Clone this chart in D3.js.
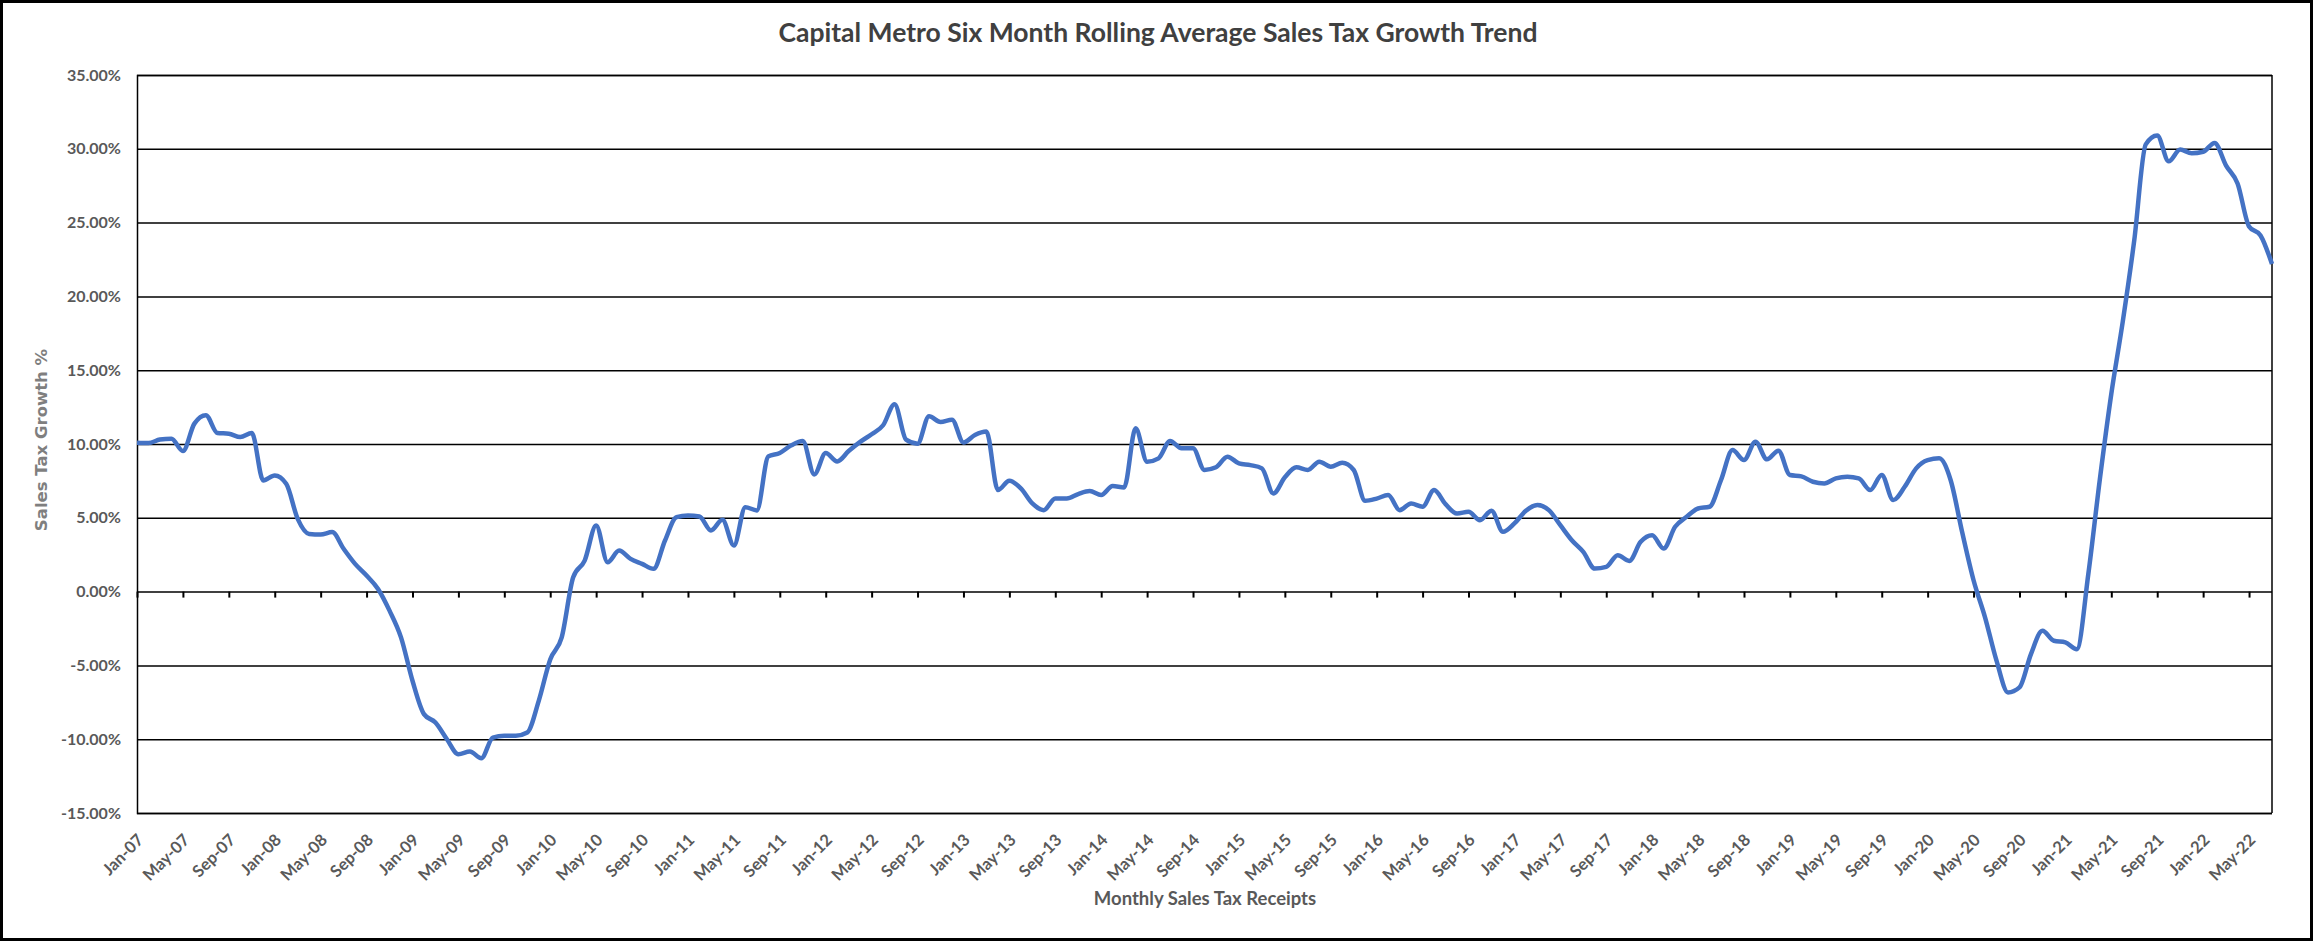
<!DOCTYPE html>
<html>
<head>
<meta charset="utf-8">
<script src="https://cdn.jsdelivr.net/npm/d3@7"></script>
<style>
  body { margin: 0; background: #fff; }
  svg { display: block; }
</style>
</head>
<body>
<svg id="chart" width="2313" height="941"></svg>
<script>
// Six month rolling average growth, percent, one value per month from Jan-07 to Jul-22
var growth = [
  10.09, 10.07, 10.3, 10.36, 9.52, 11.38, 11.95, 10.75, 10.7, 10.47, 10.75, 7.53,
  7.87, 7.31, 4.93, 3.91, 3.87, 4.03, 2.9, 1.88, 1.09, 0.18, -1.29, -3.1,
  -6.04, -8.3, -8.87, -10.0, -11.02, -10.84, -11.29, -9.89, -9.77, -9.77, -9.55, -7.4,
  -4.6, -3.1, 0.97, 2.1, 4.48, 1.99, 2.78, 2.22, 1.88, 1.54, 3.46, 5.05,
  5.16, 5.09, 4.14, 4.86, 3.12, 5.72, 5.5, 9.16, 9.39, 9.91, 10.2, 7.94,
  9.39, 8.82, 9.52, 10.14, 10.66, 11.27, 12.69, 10.29, 10.02, 11.88, 11.49, 11.65,
  10.1, 10.61, 10.84, 6.88, 7.51, 6.99, 5.97, 5.52, 6.31, 6.31, 6.61, 6.81,
  6.54, 7.15, 7.06, 11.06, 8.8, 9.03, 10.2, 9.71, 9.71, 8.24, 8.42, 9.14,
  8.69, 8.57, 8.35, 6.65, 7.74, 8.42, 8.24, 8.8, 8.46, 8.73, 8.24, 6.15,
  6.3, 6.54, 5.52, 5.97, 5.75, 6.88, 5.93, 5.29, 5.41, 4.84, 5.48, 4.05,
  4.62, 5.48, 5.86, 5.52, 4.5, 3.48, 2.69, 1.56, 1.67, 2.47, 2.08, 3.37,
  3.82, 2.92, 4.39, 5.07, 5.63, 5.75, 7.56, 9.59, 8.91, 10.16, 8.96, 9.55,
  7.9, 7.81, 7.44, 7.33, 7.67, 7.78, 7.67, 6.88, 7.9, 6.2, 7.1, 8.35,
  8.91, 9.03, 7.56, 4.05, 0.77, -1.74, -4.68, -6.83, -6.49, -4.23, -2.65, -3.33,
  -3.44, -3.9, 1.2, 7.6, 13.4, 18.3, 23.8, 30.3, 30.9, 29.15, 29.95, 29.7,
  29.8, 30.4, 28.86, 27.65, 24.74, 24.13, 22.19
];

// Category months (one per value) and the value axis ticks
var months = d3.timeMonth.range(new Date(2007, 0, 1), new Date(2022, 7, 1));
var yTicks = [-15, -10, -5, 0, 5, 10, 15, 20, 25, 30, 35];
var labelEvery = 4;

var title = 'Capital Metro Six Month Rolling Average Sales Tax Growth Trend';
var xTitle = 'Monthly Sales Tax Receipts';
var yTitle = 'Sales Tax Growth %';

var svg = d3.select('#chart');
var width = +svg.attr('width');
var height = +svg.attr('height');

// plot area box (note: "top" is a reserved window global, so use plot* names)
var plotLeft = 137, plotRight = 2272, plotTop = 75, plotBottom = 813;

var x = d3.scaleLinear()
  .domain([0, growth.length - 1])
  .range([plotLeft, plotRight]);

var y = d3.scaleLinear()
  .domain([-15, 35])
  .range([plotBottom, plotTop]);

var monthFmt = d3.timeFormat('%b-%y');
var tickIdx = d3.range(0, growth.length, labelEvery);

// Outer frame
svg.append('rect')
  .attr('x', 1.5).attr('y', 1.5)
  .attr('width', width - 3).attr('height', height - 3)
  .attr('fill', '#fff')
  .attr('stroke', '#000')
  .attr('stroke-width', 3);

// Title
svg.append('text')
  .attr('x', 1158).attr('y', 42)
  .attr('text-anchor', 'middle')
  .attr('font-family', 'Lato, sans-serif')
  .attr('font-weight', 'bold')
  .attr('font-size', 26.5)
  .attr('fill', '#404040')
  .text(title);

// Horizontal gridlines and y labels
svg.append('g')
  .attr('transform', 'translate(' + plotLeft + ',0)')
  .call(d3.axisLeft(y)
    .tickValues(yTicks)
    .tickSize(-(plotRight - plotLeft))
    .tickPadding(16)
    .tickFormat(function(d) { return d.toFixed(2) + '%'; }))
  .call(function(g) {
    g.select('.domain').attr('stroke', '#000').attr('stroke-width', 1.5);
    g.selectAll('.tick line').attr('stroke', '#000').attr('stroke-width', 1.5);
    g.selectAll('.tick text')
      .attr('font-family', 'Lato, sans-serif')
      .attr('font-weight', 'bold')
      .attr('font-size', 16)
      .attr('fill', '#595959');
  });

// Right edge of the plot area
svg.append('line')
  .attr('x1', plotRight).attr('x2', plotRight)
  .attr('y1', plotTop).attr('y2', plotBottom)
  .attr('stroke', '#000')
  .attr('stroke-width', 1.5);

// Small tick marks hanging from the 0% line
svg.append('g')
  .attr('transform', 'translate(0,' + y(0) + ')')
  .call(d3.axisBottom(x)
    .tickValues(tickIdx)
    .tickSize(6)
    .tickFormat(''))
  .call(function(g) {
    g.select('.domain').remove();
    g.selectAll('.tick line').attr('stroke', '#000').attr('stroke-width', 2);
  });

// Month labels below the plot
svg.append('g')
  .attr('transform', 'translate(0,' + plotBottom + ')')
  .call(d3.axisBottom(x)
    .tickValues(tickIdx)
    .tickSize(0)
    .tickFormat(function(i) { return monthFmt(months[i]); }))
  .call(function(g) {
    g.select('.domain').remove();
    g.selectAll('.tick text')
      .attr('x', 0).attr('y', 0).attr('dy', '0.35em')
      .attr('transform', 'translate(3,24) rotate(-45)')
      .attr('text-anchor', 'end')
      .attr('font-family', 'Lato, sans-serif')
      .attr('font-weight', 'bold')
      .attr('font-size', 16.5)
      .attr('fill', '#595959');
  });

// The growth line
var line = d3.line()
  .x(function(d, i) { return x(i); })
  .y(function(d) { return y(d); })
  .curve(d3.curveMonotoneX);

svg.append('path')
  .datum(growth)
  .attr('fill', 'none')
  .attr('stroke', '#4472C4')
  .attr('stroke-width', 4.5)
  .attr('stroke-linejoin', 'round')
  .attr('d', line);

// Axis titles
svg.append('text')
  .attr('x', 1205).attr('y', 905)
  .attr('text-anchor', 'middle')
  .attr('font-family', 'Lato, sans-serif')
  .attr('font-weight', 'bold')
  .attr('font-size', 18.5)
  .attr('fill', '#595959')
  .text(xTitle);

svg.append('text')
  .attr('transform', 'translate(47,440) rotate(-90)')
  .attr('text-anchor', 'middle')
  .attr('font-family', 'DejaVu Sans, sans-serif')
  .attr('font-weight', 'bold')
  .attr('font-size', 16.5)
  .attr('fill', '#7f7f7f')
  .text(yTitle);
</script>
</body>
</html>
